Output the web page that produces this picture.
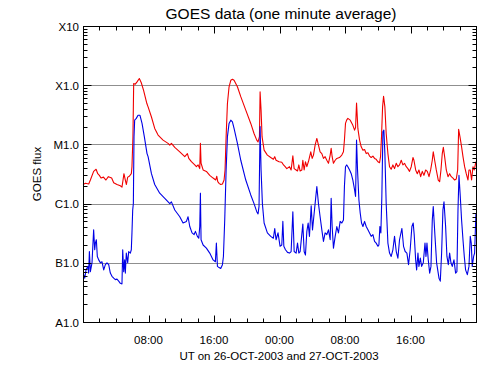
<!DOCTYPE html>
<html>
<head>
<meta charset="utf-8">
<script src="https://cdn.jsdelivr.net/npm/d3@7"></script>
<style>
  body { margin: 0; background: #fff; }
  text { font-family: "Liberation Sans", Arial, Helvetica, sans-serif; }
</style>
</head>
<body>
<div id="chart"></div>
<script>
// GOES flux, hours after 26-OCT-2003 00:00 UT and W/m^2
const redHours = [0.0, 0.3, 0.7, 0.9, 1.3, 1.6, 1.8, 2.0, 2.2, 2.5, 2.8, 3.1, 3.5, 3.75, 4.15, 4.56, 4.76, 4.89, 5.0, 5.17, 5.3, 5.46, 5.66, 5.9, 5.98, 6.1, 6.19, 6.39, 6.6, 6.88, 7.12, 7.4, 7.8,
  7.95, 8.36, 8.76, 9.17, 9.78, 10.39, 10.6, 10.8, 11.21, 11.82, 12.43, 12.75, 12.92, 13.24, 13.65, 13.85, 14.06, 14.26, 14.34, 14.42, 14.67, 15.07, 15.48, 15.89,
  16.21, 16.34, 16.46, 16.62, 16.82, 17.03, 17.23, 17.35, 17.48, 17.64, 17.84, 18.05, 18.25, 18.45, 18.86, 19.27, 19.88, 20.49, 20.89, 21.22, 21.38, 21.55, 21.63, 21.75, 21.87, 22.12, 22.52, 22.93, 23.25, 23.42, 23.58, 23.95,
  24.28, 24.49, 24.69, 24.89, 25.22, 25.42, 25.63, 25.79, 26.03, 26.2, 26.36, 26.52, 26.73, 26.85, 27.01, 27.17, 27.34, 27.58, 27.82, 27.99, 28.15, 28.35, 28.56, 28.76, 28.96, 29.17, 29.37, 29.57, 29.78, 29.98, 30.19, 30.31, 30.43, 30.59, 30.8, 31.0, 31.32, 31.61, 31.81, 31.93, 32.06,
  32.2, 32.35, 32.64, 32.96, 33.17, 33.29, 33.41, 33.57, 33.78, 33.98, 34.19, 34.39, 34.59, 34.8, 35.0, 35.2, 35.41, 35.61, 35.81, 36.02, 36.22, 36.34, 36.46, 36.59, 36.71, 36.87, 37.03, 37.24, 37.44, 37.64, 37.85, 38.05, 38.26, 38.46, 38.66, 38.87, 39.07, 39.27, 39.48, 39.68, 39.88, 40.09,
  40.3, 40.42, 40.63, 40.83, 41.03, 41.24, 41.44, 41.64, 41.85, 42.05, 42.26, 42.46, 42.66, 42.78, 42.95, 43.15, 43.39, 43.56, 43.72, 43.88, 44.01, 44.17, 44.37, 44.58, 44.78, 44.98, 45.19, 45.39, 45.59, 45.76, 45.88, 46.04, 46.24, 46.41, 46.61, 46.81, 47.02, 47.14, 47.3, 47.46, 47.63, 47.79, 47.99];
const redFlux = [2.1e-6, 2.2e-6, 2.15e-6, 2.5e-6, 3.5e-6, 3.8e-6, 3.2e-6, 3.0e-6, 2.7e-6, 2.8e-6, 2.5e-6, 2.85e-6, 2.7e-6, 2.25e-6, 2.1e-6, 2.0e-6, 1.9e-6, 2.5e-6, 3.2e-6, 2.5e-6, 2.1e-6, 2.8e-6, 2.9e-6, 3.2e-6, 4.2e-6, 1.35e-5, 1.07e-4, 1.04e-4, 1.14e-4, 1.3e-4, 1.1e-4, 8.2e-5, 4.9e-5,
  4.3e-5, 2.9e-5, 1.86e-5, 1.44e-5, 1.18e-5, 1.04e-5, 9.7e-6, 1.04e-5, 8.9e-6, 7.5e-6, 6.2e-6, 7.0e-6, 5.8e-6, 5.1e-6, 4.5e-6, 4.2e-6, 4.5e-6, 3.9e-6, 1.04e-5, 4.8e-6, 3.7e-6, 3.5e-6, 3.0e-6, 2.7e-6,
  2.5e-6, 2.9e-6, 2.35e-6, 2.2e-6, 2.1e-6, 2.15e-6, 2.5e-6, 3.7e-6, 1.35e-5, 4.9e-5, 9.4e-5, 1.21e-4, 1.26e-4, 1.21e-4, 9.4e-5, 6.4e-5, 3.8e-5, 2.26e-5, 1.53e-5, 1.18e-5, 1.1e-5, 1.35e-5, 7.7e-5, 3.8e-5, 1.35e-5, 8.0e-6, 6.6e-6, 6.0e-6, 5.6e-6, 6.2e-6, 5.4e-6, 5.1e-6,
  5.0e-6, 4.5e-6, 4.2e-6, 3.9e-6, 4.2e-6, 3.7e-6, 6.4e-6, 3.9e-6, 3.7e-6, 3.55e-6, 4.5e-6, 3.55e-6, 3.7e-6, 5.4e-6, 3.7e-6, 5.1e-6, 4.2e-6, 5.4e-6, 7.5e-6, 5.8e-6, 6.6e-6, 9.7e-6, 1.26e-5, 9.7e-6, 7.5e-6, 7.0e-6, 5.8e-6, 6.2e-6, 5.4e-6, 4.8e-6, 6.6e-6, 8.6e-6, 6.2e-6, 4.8e-6, 5.4e-6, 5.8e-6, 6.0e-6, 6.6e-6, 7.5e-6, 1.18e-5, 2.26e-5,
  2.57e-5, 2.75e-5, 2.57e-5, 2.1e-5, 1.74e-5, 1.93e-5, 5.0e-5, 1.86e-5, 1.18e-5, 9.1e-6, 8.0e-6, 8.2e-6, 7.0e-6, 7.2e-6, 6.35e-6, 6.0e-6, 6.35e-6, 5.8e-6, 5.6e-6, 5.1e-6, 4.9e-6, 6.2e-6, 1.35e-5, 4.3e-5, 6.5e-5, 4.3e-5, 1.53e-5, 7.0e-6, 4.2e-6, 3.8e-6, 4.5e-6, 3.9e-6, 4.8e-6, 4.2e-6, 4.5e-6, 5.4e-6, 4.5e-6, 4.8e-6, 4.2e-6, 3.9e-6, 3.5e-6, 4.2e-6,
  6.0e-6, 5.4e-6, 3.7e-6, 3.2e-6, 3.7e-6, 2.85e-6, 3.5e-6, 3.0e-6, 3.7e-6, 3.5e-6, 2.85e-6, 3.7e-6, 5.4e-6, 7.5e-6, 5.4e-6, 3.7e-6, 2.5e-6, 2.35e-6, 3.7e-6, 7.0e-6, 8.9e-6, 6.2e-6, 3.7e-6, 2.85e-6, 3.2e-6, 2.85e-6, 2.7e-6, 2.5e-6, 2.6e-6, 3.7e-6, 1.8e-5, 1.35e-5, 9.1e-6, 6.2e-6, 4.2e-6, 3.2e-6, 2.5e-6, 3.7e-6, 3.7e-6, 2.5e-6, 4.2e-6, 3.7e-6, 5.1e-6];

const blueHours = [0.08, 0.21, 0.37, 0.61, 0.69, 0.78, 0.9, 1.1, 1.3, 1.43, 1.51, 1.63, 1.75, 1.92, 2.12, 2.32, 2.53, 2.73, 2.93, 3.14, 3.34, 3.54, 3.75, 3.95, 4.15, 4.36, 4.56, 4.76, 4.85, 4.97, 5.09, 5.17, 5.29, 5.46, 5.58, 5.78, 5.9, 5.98, 6.07, 6.15, 6.23, 6.31, 6.51, 6.72, 6.96, 7.21, 7.49, 7.82,
  7.95, 8.36, 8.76, 9.37, 9.99, 10.6, 10.8, 11.21, 11.82, 12.22, 12.63, 12.83, 13.04, 13.32, 13.57, 13.73, 13.97, 14.14, 14.26, 14.34, 14.42, 14.67, 15.07, 15.48, 15.89,
  16.17, 16.29, 16.42, 16.62, 16.82, 17.03, 17.15, 17.31, 17.48, 17.64, 17.84, 18.05, 18.25, 18.45, 18.86, 19.27, 19.88, 20.49, 20.89, 21.22, 21.38, 21.5, 21.63, 21.75, 21.91, 22.12, 22.52, 22.93, 23.25, 23.42, 23.58, 23.82, 24.07,
  24.28, 24.41, 24.53, 24.73, 24.98, 25.22, 25.42, 25.63, 25.79, 26.03, 26.2, 26.36, 26.52, 26.85, 27.01, 27.17, 27.34, 27.5, 27.66, 27.87, 28.03, 28.19, 28.35, 28.56, 28.76, 28.96, 29.17, 29.37, 29.57, 29.78, 29.98, 30.19, 30.31, 30.43, 30.59, 30.8, 31.0, 31.2, 31.41, 31.61, 31.81, 31.93, 32.06,
  32.2, 32.35, 32.56, 32.76, 32.96, 33.17, 33.29, 33.41, 33.53, 33.7, 33.86, 34.02, 34.19, 34.39, 34.59, 34.8, 35.0, 35.2, 35.41, 35.61, 35.81, 36.02, 36.14, 36.26, 36.38, 36.5, 36.63, 36.75, 36.87, 37.03, 37.24, 37.44, 37.64, 37.85, 38.05, 38.26, 38.46, 38.66, 38.95, 39.15, 39.35, 39.56, 39.76, 39.96, 40.17,
  40.33, 40.45, 40.63, 40.75, 40.91, 41.03, 41.2, 41.36, 41.56, 41.77, 41.89, 42.01, 42.17, 42.34, 42.5, 42.66, 42.78, 42.99, 43.19, 43.48, 43.64, 43.8, 43.96, 44.09, 44.29, 44.45, 44.62, 44.78, 44.94, 45.1, 45.31, 45.51, 45.67, 45.8, 45.92, 46.08, 46.24, 46.41, 46.57, 46.73, 46.94, 47.14, 47.3, 47.42, 47.54, 47.71, 47.83, 47.99];
const blueFlux = [6.3e-8, 5.5e-8, 7.6e-8, 8.7e-8, 6.7e-8, 1.55e-7, 7.1e-8, 1.0e-7, 3.6e-7, 1.66e-7, 2.15e-7, 2.45e-7, 1.28e-7, 1.12e-7, 1.0e-7, 1.04e-7, 7.6e-8, 9.3e-8, 1.0e-7, 9.3e-8, 6.7e-8, 5.9e-8, 5.5e-8, 5.2e-8, 5.3e-8, 4.9e-8, 4.5e-8, 4.4e-8, 1.66e-7, 7.1e-8, 1.12e-7, 6.7e-8, 1.46e-7, 1.0e-7, 1.55e-7, 1.46e-7, 1.66e-7, 3.2e-7, 7.8e-7, 1.0e-6, 1.35e-5, 2.57e-5, 2.75e-5, 3.1e-5, 3.1e-5, 2.26e-5, 1.35e-5, 7.0e-6,
  6.2e-6, 3.2e-6, 2.1e-6, 1.5e-6, 1.23e-6, 1.0e-6, 1.07e-6, 7.8e-7, 6.0e-7, 4.7e-7, 5.0e-7, 6.0e-7, 4.1e-7, 3.2e-7, 3.0e-7, 3.4e-7, 2.8e-7, 2.6e-7, 4.1e-7, 1.5e-6, 2.45e-7, 2.0e-7, 1.77e-7, 1.46e-7, 1.12e-7,
  1.04e-7, 2.15e-7, 8.7e-8, 8.3e-8, 8.0e-8, 9.3e-8, 1.28e-7, 5.3e-7, 3.7e-6, 1.35e-5, 2.26e-5, 2.57e-5, 2.4e-5, 1.86e-5, 1.04e-5, 5.4e-6, 2.5e-6, 1.4e-6, 1.0e-6, 7.3e-7, 6.7e-7, 9.0e-7, 2.0e-5, 3.7e-6, 1.0e-6, 4.7e-7, 3.2e-7, 2.8e-7, 2.6e-7, 3.8e-7, 2.45e-7, 3.2e-7, 1.9e-7,
  2.0e-7, 5.0e-7, 1.9e-7, 1.66e-7, 1.5e-7, 1.46e-7, 1.55e-7, 7.3e-7, 1.55e-7, 1.46e-7, 2.15e-7, 1.46e-7, 1.55e-7, 4.5e-7, 1.55e-7, 1.35e-7, 3.4e-7, 4.7e-7, 2.8e-7, 9.2e-7, 3.6e-7, 6.0e-7, 1.0e-6, 1.94e-6, 1.0e-6, 6.0e-7, 3.6e-7, 2.3e-7, 3.2e-7, 3.0e-7, 3.6e-7, 2.45e-7, 1.23e-6, 4.1e-7, 1.77e-7, 2.8e-7, 4.1e-7, 3.2e-7, 5.0e-7, 4.7e-7, 5.3e-7, 1.94e-6, 4.2e-6,
  4.5e-6, 4.2e-6, 3.7e-6, 3.2e-6, 2.5e-6, 1.7e-6, 1.32e-6, 1.18e-5, 3.7e-6, 1.15e-6, 6.9e-7, 4.7e-7, 4.1e-7, 5.0e-7, 4.1e-7, 3.6e-7, 3.2e-7, 2.8e-7, 3.0e-7, 2.3e-7, 2.15e-7, 1.9e-7, 2.0e-7, 4.1e-7, 3.2e-7, 1.32e-6, 1.64e-5, 1.74e-5, 7.0e-6, 1.0e-6, 2.15e-7, 1.46e-7, 1.28e-7, 1.66e-7, 2.8e-7, 1.55e-7, 1.2e-7, 2.45e-7, 3.8e-7, 1.9e-7, 1.55e-7, 1.46e-7, 9.3e-8, 1.66e-7, 4.1e-7,
  4.7e-7, 3.0e-7, 1.12e-7, 7.6e-8, 1.46e-7, 8.7e-8, 1.2e-7, 8.7e-8, 1.0e-7, 2.15e-7, 1.28e-7, 2.15e-7, 1.12e-7, 6.7e-8, 8.7e-8, 5.3e-7, 8.9e-7, 2.8e-7, 1.0e-7, 5.5e-8, 4.9e-8, 1.46e-7, 7.8e-7, 1.07e-6, 4.1e-7, 1.28e-7, 9.3e-8, 1.46e-7, 1.0e-7, 8.7e-8, 1.12e-7, 6.7e-8, 7.1e-8, 7.8e-7, 3.0e-6, 1.32e-6, 5.3e-7, 2.45e-7, 1.28e-7, 7.6e-8, 6.3e-8, 8.7e-8, 2.8e-7, 2.15e-7, 8.7e-8, 1.28e-7, 1.46e-7, 6.9e-7];

// GOES class labels on the flux decades
const classValues = [1e-8, 1e-7, 1e-6, 1e-5, 1e-4, 1e-3];
const classLabels = ["A1.0", "B1.0", "C1.0", "M1.0", "X1.0", "X10"];

const width = 500;
const height = 375;
const margin = { top: 26, right: 24, bottom: 53, left: 83 };
const t0 = Date.UTC(2003, 9, 26);
const toDate = (h) => new Date(t0 + h * 3600e3);

const svg = d3
  .select("#chart")
  .append("svg")
  .attr("width", width)
  .attr("height", height);

const x = d3
  .scaleUtc()
  .domain([toDate(0), toDate(48)])
  .range([margin.left, width - margin.right]);

const y = d3
  .scaleLog()
  .domain([1e-8, 1e-3])
  .range([height - margin.bottom, margin.top]);

// horizontal grid lines at the class boundaries
svg
  .selectAll(".grid")
  .data(classValues.slice(1, -1))
  .enter()
  .append("line")
  .attr("x1", margin.left)
  .attr("x2", width - margin.right)
  .attr("y1", (d) => Math.round(y(d)) + 0.5)
  .attr("y2", (d) => Math.round(y(d)) + 0.5)
  .attr("stroke", "#8f8f8f")
  .attr("stroke-width", 1);

// flux curves
const line = d3
  .line()
  .x((d) => x(toDate(d[0])))
  .y((d) => y(d[1]));

svg
  .append("path")
  .datum(redHours.map((h, i) => [h, redFlux[i]]))
  .attr("fill", "none")
  .attr("stroke", "#f00000")
  .attr("stroke-width", 1.1)
  .attr("stroke-linejoin", "round")
  .attr("d", line);

svg
  .append("path")
  .datum(blueHours.map((h, i) => [h, blueFlux[i]]))
  .attr("fill", "none")
  .attr("stroke", "#0000e6")
  .attr("stroke-width", 1.1)
  .attr("stroke-linejoin", "round")
  .attr("d", line);

// frame
const x0 = margin.left + 0.5;
const x1 = width - margin.right + 0.5;
const y0 = margin.top + 0.5;
const y1 = height - margin.bottom + 0.5;
svg
  .append("rect")
  .attr("x", x0)
  .attr("y", y0)
  .attr("width", x1 - x0)
  .attr("height", y1 - y0)
  .attr("fill", "none")
  .attr("stroke", "#000")
  .attr("stroke-width", 1);

// y ticks (inward, both sides), log minor ticks
const yMinor = [];
for (let e = -8; e < -3; e++) {
  for (let m = 2; m <= 9; m++) yMinor.push(m * Math.pow(10, e));
}
const yTicks = classValues.map((v) => ({ v, len: 8 })).concat(yMinor.map((v) => ({ v, len: 4 })));

svg
  .selectAll(".ytick-l")
  .data(yTicks)
  .enter()
  .append("line")
  .attr("x1", x0)
  .attr("x2", (d) => x0 + d.len)
  .attr("y1", (d) => Math.round(y(d.v)) + 0.5)
  .attr("y2", (d) => Math.round(y(d.v)) + 0.5)
  .attr("stroke", "#000");

svg
  .selectAll(".ytick-r")
  .data(yTicks)
  .enter()
  .append("line")
  .attr("x1", x1)
  .attr("x2", (d) => x1 - d.len)
  .attr("y1", (d) => Math.round(y(d.v)) + 0.5)
  .attr("y2", (d) => Math.round(y(d.v)) + 0.5)
  .attr("stroke", "#000");

svg
  .selectAll(".ylabel")
  .data(classValues)
  .enter()
  .append("text")
  .attr("x", margin.left - 4)
  .attr("y", (d) => y(d) + 4.5)
  .attr("text-anchor", "end")
  .attr("font-size", "11.5px")
  .attr("fill", "#000")
  .text((d, i) => classLabels[i]);

// x ticks: majors every 8 h, minors every 2 h
const xMajor = x.ticks(d3.utcHour.every(8));
const xMinor = x.ticks(d3.utcHour.every(2));
const xTicks = xMinor.map((d) => ({ d, len: d.getUTCHours() % 8 === 0 ? 7 : 4 }));

svg
  .selectAll(".xtick-b")
  .data(xTicks)
  .enter()
  .append("line")
  .attr("x1", (d) => Math.round(x(d.d)) + 0.5)
  .attr("x2", (d) => Math.round(x(d.d)) + 0.5)
  .attr("y1", y1)
  .attr("y2", (d) => y1 - d.len)
  .attr("stroke", "#000");

svg
  .selectAll(".xtick-t")
  .data(xTicks)
  .enter()
  .append("line")
  .attr("x1", (d) => Math.round(x(d.d)) + 0.5)
  .attr("x2", (d) => Math.round(x(d.d)) + 0.5)
  .attr("y1", y0)
  .attr("y2", (d) => y0 + d.len)
  .attr("stroke", "#000");

svg
  .selectAll(".xlabel")
  .data(xMajor.slice(1, -1))
  .enter()
  .append("text")
  .attr("x", (d) => x(d))
  .attr("y", 343.5)
  .attr("text-anchor", "middle")
  .attr("font-size", "11.5px")
  .attr("fill", "#000")
  .text((d) => d3.utcFormat("%H:%M")(d));

// titles
svg
  .append("text")
  .attr("x", 281)
  .attr("y", 19)
  .attr("text-anchor", "middle")
  .attr("font-size", "15.5px")
  .text("GOES data (one minute average)");

svg
  .append("text")
  .attr("x", 279)
  .attr("y", 359.5)
  .attr("text-anchor", "middle")
  .attr("font-size", "11.5px")
  .text("UT on 26-OCT-2003 and 27-OCT-2003");

svg
  .append("text")
  .attr("transform", `translate(41, ${(margin.top + height - margin.bottom) / 2}) rotate(-90)`)
  .attr("text-anchor", "middle")
  .attr("font-size", "11.5px")
  .text("GOES flux");
</script>
</body>
</html>
